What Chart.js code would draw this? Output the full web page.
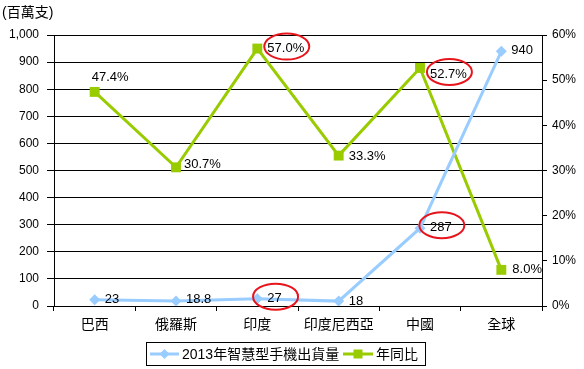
<!DOCTYPE html>
<html>
<head>
<meta charset="utf-8">
<script src="https://cdn.jsdelivr.net/npm/chart.js@4/dist/chart.umd.min.js"></script>
<style>
html,body{margin:0;padding:0;background:#fff;}
#wrap{width:584px;height:369px;position:relative;}
</style>
</head>
<body>
<div id="wrap"><canvas id="c" width="584" height="369"></canvas></div>
<script>
// ---- data ----
const categories = ['巴西', '俄羅斯', '印度', '印度尼西亞', '中國', '全球'];
const shipments = [23, 18.8, 27, 18, 287, 940];          // 2013年智慧型手機出貨量 (百萬支)
const yoyGrowth = [47.4, 30.7, 57.0, 33.3, 52.7, 8.0];   // 年同比 (%)
const seriesNames = ['2013年智慧型手機出貨量', '年同比'];
const unitLabel = '(百萬支)';
const leftAxis = { min: 0, max: 1000, step: 100 };
const rightAxis = { min: 0, max: 60, step: 10 };
const highlighted = [2, 4]; // points whose labels are circled

// ---- styling / placement ----
const NUM_FONT = '13px "Liberation Sans", "Noto Sans CJK TC", sans-serif';
const CJK_FONT = '14px "Liberation Sans", "Noto Sans CJK TC", sans-serif';
const BLUE = '#99CCFF';
const GREEN = '#99CC00';
// label offsets [dx, dy] relative to point (dx = left edge of text)
const labelOffsets = [
  [[10, 0], [10, -1], [10, 0], [10, 0], [10, -1], [10, -1]],
  [[-3, -14], [8, -3], [10, 0], [10, 1], [10, 6], [11, 0]]
];

const labelPlugin = {
  id: 'labels',
  afterDatasetsDraw(chart) {
    const ctx = chart.ctx;
    ctx.save();
    ctx.font = NUM_FONT;
    ctx.fillStyle = '#000';
    ctx.textBaseline = 'middle';
    ctx.textAlign = 'left';
    chart.data.datasets.forEach((ds, di) => {
      const meta = chart.getDatasetMeta(di);
      meta.data.forEach((pt, i) => {
        const v = ds.data[i];
        const txt = di === 0 ? String(v) : v.toFixed(1) + '%';
        const [dx, dy] = labelOffsets[di][i];
        const x = pt.x + dx, y = pt.y + dy;
        ctx.fillText(txt, x, y);
        if (highlighted.includes(i)) {
          const w = ctx.measureText(txt).width;
          ctx.beginPath();
          ctx.strokeStyle = '#E8141C';
          ctx.lineWidth = 2;
          ctx.ellipse(x + w / 2 + 1, y - 2, 22.5, 13, 0, 0, Math.PI * 2);
          ctx.stroke();
        }
      });
    });
    ctx.restore();
  },
  afterDraw(chart) {
    const ctx = chart.ctx;
    ctx.save();
    // unit title
    ctx.font = CJK_FONT;
    ctx.fillStyle = '#000';
    ctx.textBaseline = 'middle';
    ctx.textAlign = 'left';
    ctx.fillText(unitLabel, 2, 13);
    // legend box
    const bx = 146.5, by = 342.5, bw = 279, bh = 23;
    ctx.strokeStyle = '#000';
    ctx.lineWidth = 1;
    ctx.strokeRect(bx, by, bw, bh);
    const cy = by + bh / 2;
    const items = [
      { x: 150, w: 29, color: BLUE, shape: 'diamond' },
      { x: 343, w: 30, color: GREEN, shape: 'square' }
    ];
    items.forEach((it, k) => {
      ctx.strokeStyle = it.color;
      ctx.lineWidth = 3;
      ctx.beginPath();
      ctx.moveTo(it.x, cy);
      ctx.lineTo(it.x + it.w, cy);
      ctx.stroke();
      ctx.fillStyle = it.color;
      const mx = it.x + it.w / 2;
      ctx.beginPath();
      if (it.shape === 'diamond') {
        ctx.moveTo(mx, cy - 5); ctx.lineTo(mx + 5, cy); ctx.lineTo(mx, cy + 5); ctx.lineTo(mx - 5, cy);
      } else {
        ctx.rect(mx - 4.5, cy - 4.5, 9, 9);
      }
      ctx.closePath();
      ctx.fill();
      ctx.fillStyle = '#000';
      ctx.font = CJK_FONT;
      ctx.fillText(seriesNames[k], it.x + it.w + 3, cy + 1);
    });
    ctx.restore();
  }
};

new Chart(document.getElementById('c'), {
  type: 'line',
  data: {
    labels: categories,
    datasets: [
      {
        label: seriesNames[0],
        data: shipments,
        yAxisID: 'y',
        borderColor: BLUE,
        backgroundColor: BLUE,
        borderWidth: 3,
        pointStyle: 'rectRot',
        pointRadius: 5.5,
        pointBorderWidth: 0,
        tension: 0
      },
      {
        label: seriesNames[1],
        data: yoyGrowth,
        yAxisID: 'y1',
        borderColor: GREEN,
        backgroundColor: GREEN,
        borderWidth: 3,
        pointStyle: 'rect',
        pointRadius: 7,
        pointBorderWidth: 0,
        tension: 0
      }
    ]
  },
  options: {
    responsive: false,
    animation: false,
    devicePixelRatio: 1,
    layout: { padding: { left: 0, right: 0, top: 35, bottom: 33 } },
    plugins: { legend: { display: false }, tooltip: { enabled: false }, title: { display: false } },
    scales: {
      x: {
        offset: true,
        grid: { offset: true, drawOnChartArea: false, drawTicks: true, tickLength: 5, color: '#000' },
        border: { color: '#000', width: 1 },
        ticks: { font: { family: '"Liberation Sans", "Noto Sans CJK TC", sans-serif', size: 14 }, color: '#000', padding: 6, maxRotation: 0, autoSkip: false },
        afterFit(s) { s.height = 30; }
      },
      y: {
        position: 'left',
        min: leftAxis.min, max: leftAxis.max,
        grid: { color: '#000', tickLength: 7, drawTicks: true },
        border: { color: '#000', width: 1 },
        ticks: {
          stepSize: leftAxis.step,
          font: { family: '"Liberation Sans", sans-serif', size: 12 },
          color: '#000', padding: 8,
          callback: v => v.toLocaleString('en-US')
        },
        afterFit(s) { s.width = 54; }
      },
      y1: {
        position: 'right',
        min: rightAxis.min, max: rightAxis.max,
        grid: { drawOnChartArea: false, color: '#000', tickLength: 5, drawTicks: true },
        border: { color: '#000', width: 1 },
        ticks: {
          stepSize: rightAxis.step,
          font: { family: '"Liberation Sans", sans-serif', size: 12 },
          color: '#000', padding: 5,
          callback: v => v + '%'
        },
        afterFit(s) { s.width = 42; }
      }
    }
  },
  plugins: [labelPlugin]
});
</script>
</body>
</html>
